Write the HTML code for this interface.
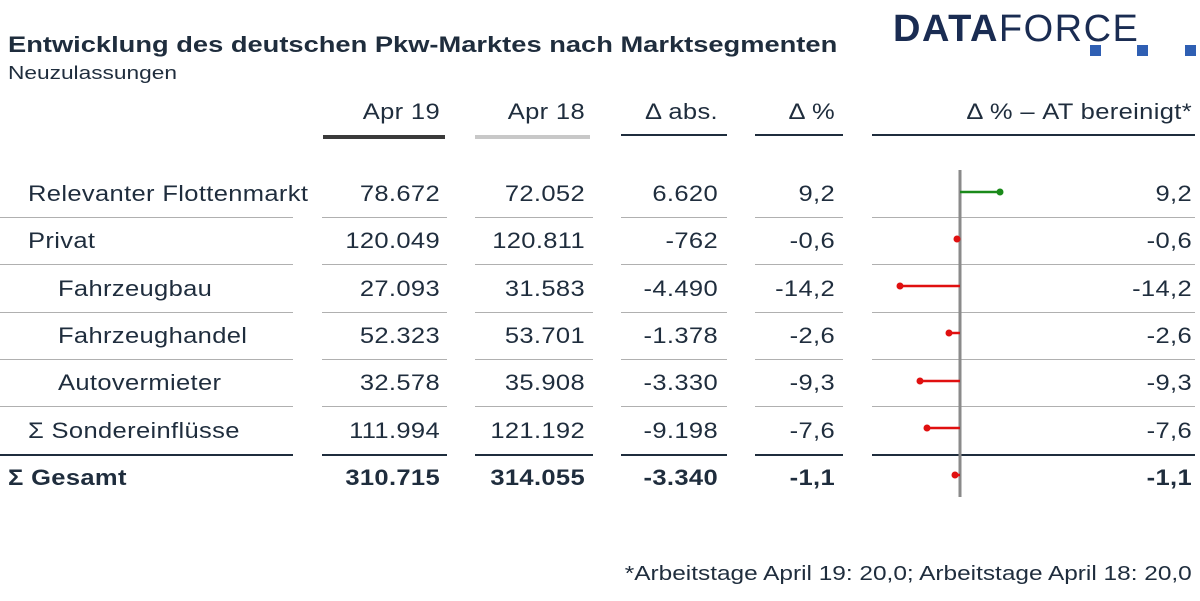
<!DOCTYPE html>
<html><head><meta charset="utf-8"><style>
body{margin:0;width:1200px;height:601px;background:#fff;font-family:"Liberation Sans",sans-serif;color:#1f2d3d;position:relative;overflow:hidden}
.a{position:absolute;white-space:nowrap}
.r{text-align:right;transform:scaleX(1.16);transform-origin:right center}
.t{font-size:22px;letter-spacing:0.3px}
.lt{transform:scaleX(1.16);transform-origin:left center}
.l{position:absolute;height:1px;background:#b0b0b0}
.d{position:absolute;height:2px;background:#1f2d3d}
</style></head><body>
<div class="a" style="left:8px;top:32px;font-size:22px;font-weight:bold;color:#1f2d3d;transform:scaleX(1.24);transform-origin:left center">Entwicklung des deutschen Pkw-Marktes nach Marktsegmenten</div>
<div class="a" style="left:8px;top:63px;font-size:18px;transform:scaleX(1.26);transform-origin:left center">Neuzulassungen</div>
<div class="a" style="left:893px;top:8px;font-size:38px;color:#1a2c52;letter-spacing:1.5px"><b>DATA</b>FORCE</div>
<div class="a" style="left:1090px;top:45px;width:11px;height:11px;background:#2f5fb3"></div>
<div class="a" style="left:1137px;top:45px;width:11px;height:11px;background:#2f5fb3"></div>
<div class="a" style="left:1185px;top:45px;width:11px;height:11px;background:#2f5fb3"></div>

<div class="a r t" style="left:323px;width:117px;top:99px">Apr 19</div>
<div class="a r t" style="left:475px;width:110px;top:99px">Apr 18</div>
<div class="a r t" style="left:621px;width:97px;top:99px">Δ abs.</div>
<div class="a r t" style="left:755px;width:80px;top:99px">Δ %</div>
<div class="a r t" style="left:872px;width:320px;top:99px">Δ % – AT bereinigt*</div>
<div class="a" style="left:323px;width:122px;top:135px;height:4px;background:#3a3a3a"></div>
<div class="a" style="left:475px;width:115px;top:135px;height:4px;background:#c8c8c8"></div>
<div class="d" style="left:621px;width:106px;top:134px"></div>
<div class="d" style="left:755px;width:88px;top:134px"></div>
<div class="d" style="left:872px;width:323px;top:134px"></div>

<div id="rows"></div>
<svg class="a" style="left:0;top:0" width="1200" height="601">
<line x1="960" y1="170" x2="960" y2="497" stroke="#8a8a8a" stroke-width="3"/>
<g stroke-width="2.5">
<line x1="960" y1="192" x2="1000" y2="192" stroke="#1a8a1a"/><circle cx="1000" cy="192" r="3.5" fill="#1a8a1a"/>
<line x1="960" y1="239" x2="957" y2="239" stroke="#e01010"/><circle cx="957" cy="239" r="3.5" fill="#e01010"/>
<line x1="960" y1="286" x2="900" y2="286" stroke="#e01010"/><circle cx="900" cy="286" r="3.5" fill="#e01010"/>
<line x1="960" y1="333" x2="949" y2="333" stroke="#e01010"/><circle cx="949" cy="333" r="3.5" fill="#e01010"/>
<line x1="960" y1="381" x2="920" y2="381" stroke="#e01010"/><circle cx="920" cy="381" r="3.5" fill="#e01010"/>
<line x1="960" y1="428" x2="927" y2="428" stroke="#e01010"/><circle cx="927" cy="428" r="3.5" fill="#e01010"/>
<line x1="960" y1="475" x2="955" y2="475" stroke="#e01010"/><circle cx="955" cy="475" r="3.5" fill="#e01010"/>
</g></svg>
<div class="a" style="right:8px;top:563px;font-size:20px;transform:scaleX(1.22);transform-origin:right center">*Arbeitstage April 19: 20,0; Arbeitstage April 18: 20,0</div>
<script>
var R=[["Relevanter Flottenmarkt","78.672","72.052","6.620","9,2",28],
["Privat","120.049","120.811","-762","-0,6",28],
["Fahrzeugbau","27.093","31.583","-4.490","-14,2",58],
["Fahrzeughandel","52.323","53.701","-1.378","-2,6",58],
["Autovermieter","32.578","35.908","-3.330","-9,3",58],
["Σ Sondereinflüsse","111.994","121.192","-9.198","-7,6",28],
["Σ Gesamt","310.715","314.055","-3.340","-1,1",8]];
var h="",c=[[323,117],[475,110],[621,97],[755,80]],segs=[[0,293],[322,125],[475,118],[621,106],[755,88],[872,323]];
R.forEach(function(r,i){var y=181+i*47.3,b=i==6?"font-weight:bold;":"";
h+='<div class="a t lt" style="'+b+'left:'+r[5]+'px;top:'+y+'px">'+r[0]+'</div>';
for(var k=0;k<4;k++)h+='<div class="a r t" style="'+b+'left:'+c[k][0]+'px;width:'+c[k][1]+'px;top:'+y+'px">'+r[k+1]+'</div>';
h+='<div class="a r t" style="'+b+'left:872px;width:320px;top:'+y+'px">'+r[4]+'</div>';
if(i<6){var ly=Math.round(y+36);segs.forEach(function(s){h+='<div class="'+(i==5?'d':'l')+'" style="left:'+s[0]+'px;width:'+s[1]+'px;top:'+ly+'px"></div>'})}
});
document.getElementById("rows").innerHTML=h;
</script>
</body></html>
